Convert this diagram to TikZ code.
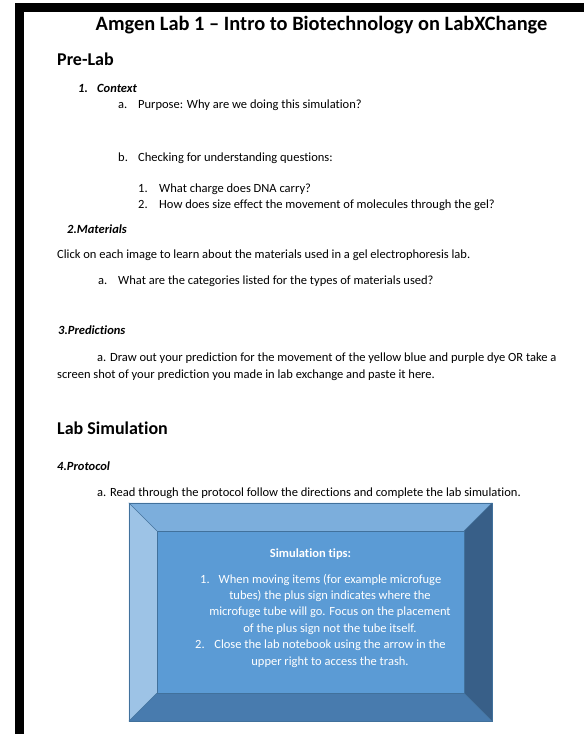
\documentclass[tikz,border=0pt]{standalone}
\usepackage{fontspec}
\setmainfont{Carlito}[Ligatures={NoCommon,NoDiscretionary}]
\usetikzlibrary{positioning}

\definecolor{bevelTop}{HTML}{7CAEDC}
\definecolor{bevelLeft}{HTML}{9DC3E6}
\definecolor{bevelRight}{HTML}{385F88}
\definecolor{bevelBottom}{HTML}{487BAE}
\definecolor{bevelFace}{HTML}{5B9BD5}
\definecolor{bevelEdge}{HTML}{41719C}

\begin{document}
\begin{tikzpicture}[x=1pt, y=-1pt,
            title/.style={anchor=base, inner sep=0pt, font=\fontsize{20.4}{24}\selectfont\bfseries},
            heading/.style={anchor=base west, inner sep=0pt, font=\fontsize{18}{22}\selectfont\bfseries},
            subhead/.style={anchor=base west, inner sep=0pt, font=\fontsize{12.5}{15}\selectfont\bfseries\itshape},
            body/.style={anchor=base west, inner sep=0pt, font=\fontsize{12.5}{15}\selectfont},
            tiptext/.style={anchor=base, inner sep=0pt, text=white, font=\fontsize{12.5}{15}\selectfont},
            tipnum/.style={anchor=base west, inner sep=0pt, text=white, font=\fontsize{12.5}{15}\selectfont},
            facet/.style={draw=bevelEdge, line width=0.6pt}
        ]
            \useasboundingbox (0,0) rectangle (584,734);

            % page edge
            \fill[black] (15,3) rectangle (584,12);
            \fill[black] (15,3) rectangle (24,734);

            % title and headings
            \node[title] (titleline) at (321.5,30) {Amgen Lab 1 – Intro to Biotechnology on LabXChange};
            \node[heading] (prelab) at (57,65) {Pre-Lab};

            % 1. context
            \node[subhead] (ctxnum) at (78,92) {1.};
            \node[subhead] (ctx) at (97,92) {Context};
            \node[body] (purposenum) at (118,108) {a.};
            \node[body] (purpose) at (138,108) {Purpose: Why are we doing this simulation?};
            \node[body] (checknum) at (118,161) {b.};
            \node[body] (check) at (138,161) {Checking for understanding questions:};
            \node[body] (qonenum) at (138,192) {1.};
            \node[body] (qone) at (159,192) {What charge does DNA carry?};
            \node[body] (qtwonum) at (138,208) {2.};
            \node[body] (qtwo) at (159,208) {How does size effect the movement of molecules through the gel?};

            % 2. materials
            \node[subhead] (materials) at (67,233) {2.Materials};
            \node[body] (click) at (57,258) {Click on each image to learn about the materials used in a gel electrophoresis lab.};
            \node[body] (catnum) at (98,284) {a.};
            \node[body] (cat) at (118,284) {What are the categories listed for the types of materials used?};

            % 3. predictions
            \node[subhead] (predictions) at (58,334) {3.Predictions};
            \node[body] (drawout) at (97,361) {a. Draw out your prediction for the movement of the yellow blue and purple dye OR take a};
            \node[body] (screenshot) at (57,378) {screen shot of your prediction you made in lab exchange and paste it here.};

            % lab simulation
            \node[heading] (labsim) at (57,434) {Lab Simulation};
            \node[subhead] (protocol) at (57,470) {4.Protocol};
            \node[body] (readthrough) at (97,496) {a. Read through the protocol follow the directions and complete the lab simulation.};

            % bevel box
            \node[minimum width=363pt, minimum height=218pt, inner sep=0pt] (bevel) at (310.5,612) {};
            \node[minimum width=307pt, minimum height=162pt, inner sep=0pt] (tipsbox) at (310.5,612) {};
            \fill[bevelTop] (bevel.north west) -- (bevel.north east) -- (tipsbox.north east) -- (tipsbox.north west) -- cycle;
            \fill[bevelLeft] (bevel.north west) -- (tipsbox.north west) -- (tipsbox.south west) -- (bevel.south west) -- cycle;
            \fill[bevelRight] (bevel.north east) -- (bevel.south east) -- (tipsbox.south east) -- (tipsbox.north east) -- cycle;
            \fill[bevelBottom] (bevel.south west) -- (tipsbox.south west) -- (tipsbox.south east) -- (bevel.south east) -- cycle;
            \fill[bevelFace] (tipsbox.north west) rectangle (tipsbox.south east);
            \draw[facet] (bevel.north west) rectangle (bevel.south east);
            \draw[facet] (tipsbox.north west) rectangle (tipsbox.south east);
            \draw[facet] (bevel.north west) -- (tipsbox.north west);
            \draw[facet] (bevel.north east) -- (tipsbox.north east);
            \draw[facet] (bevel.south west) -- (tipsbox.south west);
            \draw[facet] (bevel.south east) -- (tipsbox.south east);

            % tips
            \node[tiptext, font=\fontsize{12.5}{15}\selectfont\bfseries] (tipshead) at (310.5,557) {Simulation tips:};
            \node[tipnum] (tiponenum) at (200,583) {1.};
            \node[tipnum] (tiptwonum) at (195,648) {2.};
            \foreach \y/\line [count=\i] in {583/When moving items (for example microfuge,
                    599/tubes) the plus sign indicates where the,
                    615/microfuge tube will go. Focus on the placement,
                    632/of the plus sign not the tube itself.,
                    648/Close the lab notebook using the arrow in the,
                    665/upper right to access the trash.}{
                \node[tiptext] (tipline\i) at (330,\y) {\line};
            }

        \end{tikzpicture}
\end{document}
